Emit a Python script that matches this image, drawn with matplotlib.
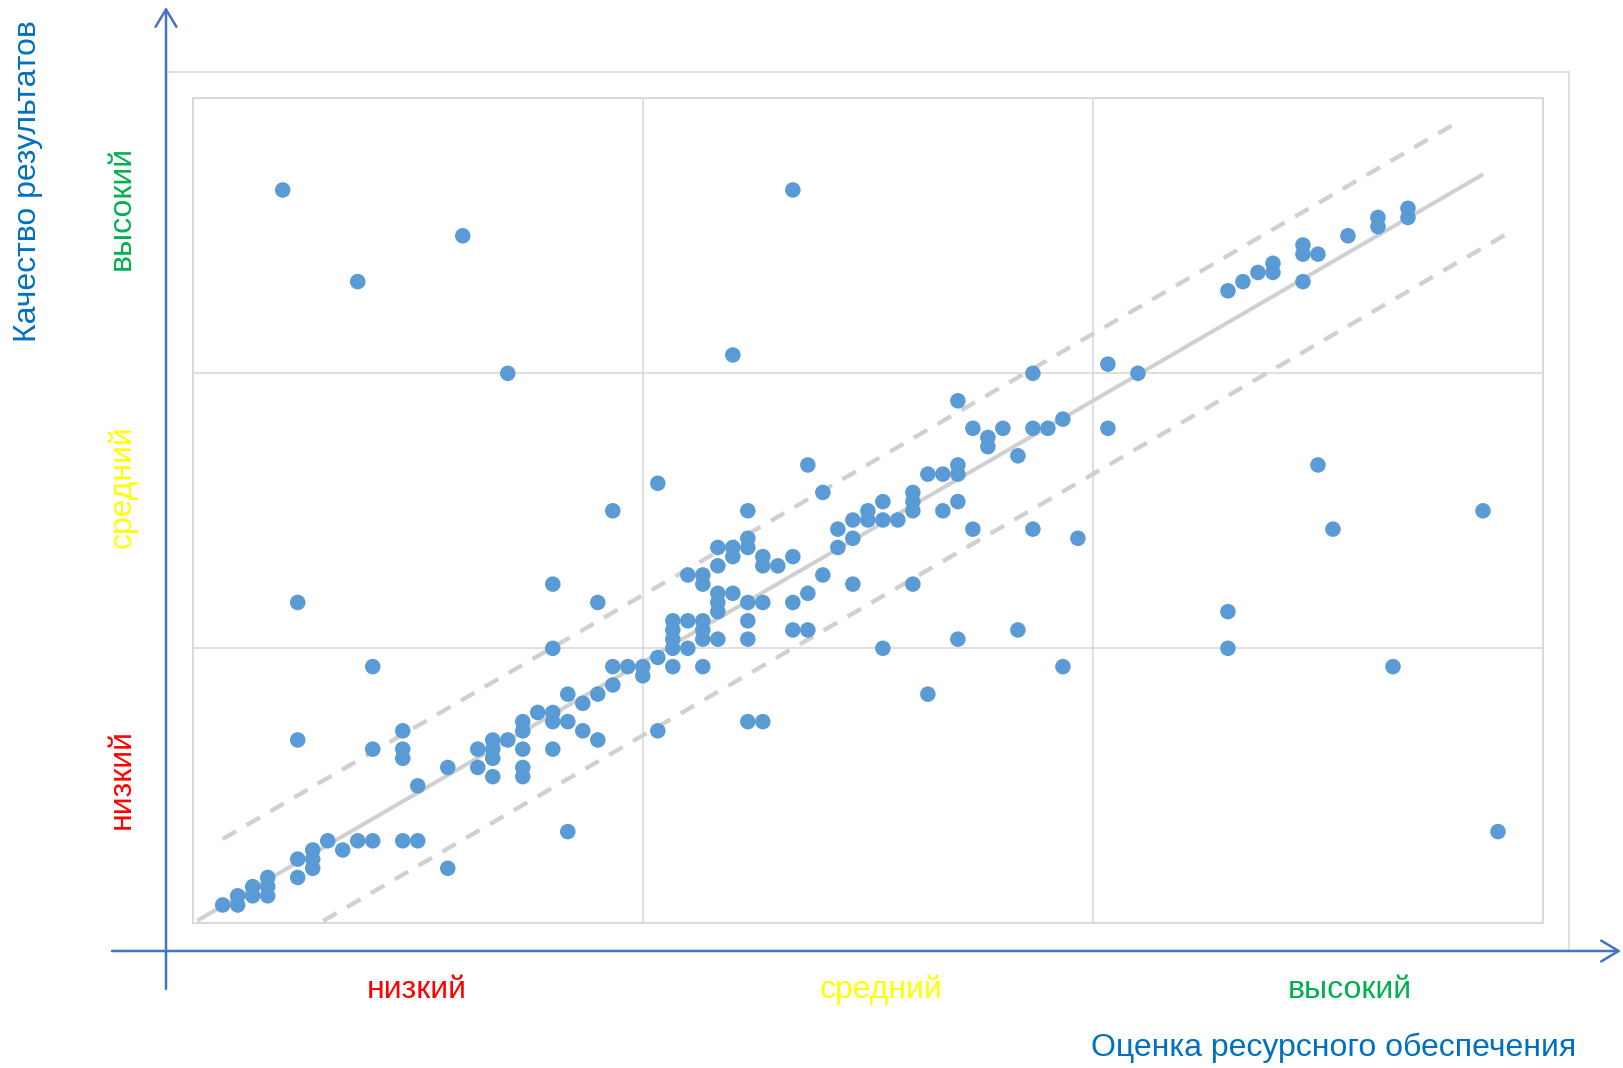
import matplotlib
matplotlib.use("Agg")
import matplotlib.pyplot as plt
from matplotlib.patches import Rectangle, FancyArrowPatch

# Data: resource provision score (x) and result quality score (y)
resource = [2, 3, 3, 4, 4, 5, 5, 5,
            7, 7, 8, 8, 8, 9, 10, 11, 12, 14, 15, 17,
            6, 7, 7, 11, 12, 12, 14, 14, 14, 15, 17, 18,
            19, 19, 20, 20, 20, 20, 21, 21,
            22, 22, 22, 22, 22,
            23, 24, 24, 24, 24, 24,
            25, 25, 25, 26, 26, 27, 27, 27,
            28, 28, 28, 29, 30, 30, 31, 31, 31,
            32, 32, 32, 32, 32,
            33, 33, 33,
            34, 34, 34, 34, 34, 34,
            35, 35, 35, 35, 35, 35,
            36, 36, 36, 36,
            37, 37, 37, 37, 37, 37, 37,
            38, 38, 38, 38,
            39, 40, 40, 40, 40, 41, 41, 41,
            42, 42,
            43, 43, 44, 44, 44, 45, 45, 46, 46, 46, 47,
            48, 48, 48, 48,
            49, 49, 50, 50, 51, 51, 51, 51, 51,
            52, 52, 53, 53, 54, 55, 55,
            56, 56, 56, 57, 58, 58, 59,
            61, 61, 63,
            69, 69, 69, 70, 71, 72, 72,
            74, 74, 74, 75, 75, 76, 77, 79, 79, 80, 81, 81,
            86, 87]
quality = [2, 2, 3, 3, 4, 3, 4, 5,
           5, 7, 6, 7, 8, 9, 8, 9, 9, 9, 9, 6,
           80, 35, 20, 70, 28, 19, 21, 19, 18, 15, 17, 75,
           19, 17, 20, 19, 18, 16, 20, 60,
           22, 21, 19, 17, 16,
           23, 23, 22, 19, 30, 37,
           25, 22, 10, 24, 21, 25, 20, 35,
           28, 26, 45, 28, 28, 27, 29, 21, 48,
           33, 32, 31, 30, 28,
           38, 33, 30,
           38, 37, 33, 32, 31, 28,
           41, 39, 36, 35, 34, 31,
           62, 41, 40, 36,
           45, 42, 41, 35, 33, 31, 22,
           40, 39, 35, 22,
           39, 80, 40, 35, 32, 50, 36, 32,
           47, 38,
           43, 41, 44, 42, 37, 45, 44, 46, 44, 30, 44,
           47, 46, 45, 37,
           49, 25, 49, 45, 57, 50, 49, 46, 31,
           54, 43, 53, 52, 54, 51, 32,
           60, 54, 43, 54, 55, 28, 42,
           61, 54, 60,
           69, 34, 30, 70, 71, 72, 71,
           74, 73, 70, 73, 50, 43, 75, 77, 76, 28, 78, 77,
           45, 10]

# Trend line and band around it
trend_slope = 0.95
band_upper = 7.3
band_lower = -8.0
trend_x = [0.3, 86.0]
upper_x = [2.0, 84.2]
lower_x = [8.7, 88.0]

level_labels = ["низкий", "средний", "высокий"]
level_colors = ["#FF0000", "#FFFF00", "#00B050"]

W, H = 1624, 1068
fig = plt.figure(figsize=(W / 100, H / 100), dpi=100)
plt.rcParams['font.family'] = ['Liberation Sans', 'DejaVu Sans']

def fx(px):
    return px / W

def fy(py):
    return 1 - py / H

# outer chart frame
fig.patches.append(Rectangle((fx(166), fy(951)), fx(1569) - fx(166), fy(71.7) - fy(951),
                             transform=fig.transFigure, fill=False,
                             edgecolor="#D9D9D9", linewidth=1.2, zorder=0))

ax = fig.add_axes([fx(192.7), fy(923.3), fx(1350.3), fy(98.3) - fy(923.3)])
ax.set_xlim(0, 90)
ax.set_ylim(0, 90)
ax.set_xticks([30, 60])
ax.set_yticks([30, 60])
ax.tick_params(length=0, labelbottom=False, labelleft=False)
ax.grid(True, color="#D9D9D9", linewidth=1.2)
ax.set_axisbelow(True)
for s in ax.spines.values():
    s.set_color("#D9D9D9")
    s.set_linewidth(1.4)

lx = [trend_x[0], trend_x[1]]
ax.plot(lx, [trend_slope * v for v in lx], color="#D0D0D0", linewidth=2.9,
        solid_capstyle="butt", zorder=2)
ax.plot(upper_x, [trend_slope * v + band_upper for v in upper_x], color="#D0D0D0",
        linewidth=3.1, dashes=(3.6, 2.8), zorder=2)
ax.plot(lower_x, [trend_slope * v + band_lower for v in lower_x], color="#D0D0D0",
        linewidth=3.1, dashes=(3.6, 2.8), zorder=2)

ax.scatter(resource, quality, s=125, color="#5B9BD5", edgecolors="none", zorder=3)

# blue axes with arrows
blue = "#4472C4"
for start, end in [((166, 989), (166, 7)), ((112, 951), (1621, 951))]:
    fig.patches.append(FancyArrowPatch((fx(start[0]), fy(start[1])), (fx(end[0]), fy(end[1])),
                                       transform=fig.transFigure,
                                       arrowstyle="->,head_length=1.25,head_width=0.75",
                                       mutation_scale=10, color=blue, linewidth=1.8,
                                       shrinkA=0, shrinkB=0))

fs = 23
fig.text(fx(28), fy(181), "Качество результатов", rotation=90, color="#0070C0",
         fontsize=fs, ha="center", va="center")
fig.text(fx(1576), fy(1048), "Оценка ресурсного обеспечения", color="#0070C0",
         fontsize=fs, ha="right", va="center")

y_label_pos = [779, 487, 208]
x_label_pos = [417, 881, 1350]
for lab, col, yp, xp in zip(level_labels, level_colors, y_label_pos, x_label_pos):
    fig.text(fx(122), fy(yp), lab, rotation=90, color=col, fontsize=fs,
             ha="center", va="center")
    fig.text(fx(xp), fy(990), lab, color=col, fontsize=fs, ha="center", va="center")

fig.savefig("out.png", dpi=100)
